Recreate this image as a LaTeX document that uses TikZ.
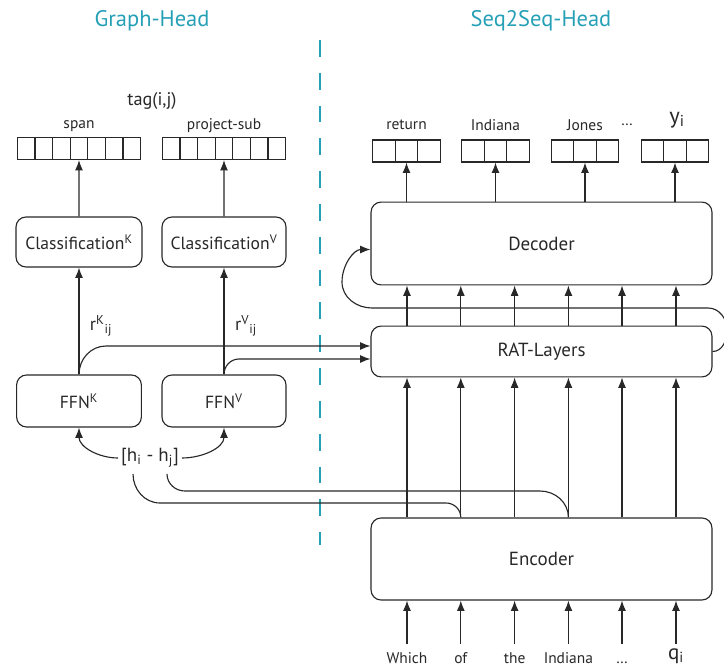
\documentclass[tikz,border=0pt]{standalone}
\usepackage{fontspec}
\setmainfont{PT Sans}
\usetikzlibrary{positioning,calc,arrows.meta}

\definecolor{ink}{RGB}{40,40,40}
\definecolor{headteal}{RGB}{38,160,182}

\tikzset{
	block/.style={draw=ink, line width=0.8pt, rounded corners=0.25cm, font=\fontsize{12.5}{14}\selectfont},
	bigblock/.style={block, minimum width=8.52cm, font=\fontsize{13.5}{15}\selectfont},
	cell/.style={draw=ink, line width=0.8pt, minimum height=0.55cm, inner sep=0pt},
	word/.style={font=\fontsize{11}{13}\selectfont, text=ink, inner sep=1pt},
	arr/.style={-{Latex[length=2.6mm,width=2mm]}, draw=ink, line width=0.8pt},
	wire/.style={draw=ink, line width=0.8pt},
	head/.style={font=\fontsize{16}{18}\selectfont, text=headteal}
}

\begin{document}
\begin{tikzpicture}[x=0.025cm, y=-0.025cm, text=ink]

	\useasboundingbox (0,0) rectangle (724,671);

	%% Headings
	\node[head] (ghead) at (152,21) {Graph-Head};
	\node[head] (shead) at (541,21) {Seq2Seq-Head};
	\coordinate (dtop) at (320,40);
	\coordinate (dbot) at (320,545);
	\draw[headteal, line width=1pt, dash pattern=on 0.42cm off 0.4cm] (dtop) -- (dbot);

	%% Graph-Head
	\node[block, minimum width=3.15cm, minimum height=1.25cm] (clsK) at (79,242) {Classification\textsuperscript{K}};
	\node[block, minimum width=3.1cm, minimum height=1.25cm] (clsV) at (224,242) {Classification\textsuperscript{V}};
	\node[block, minimum width=3.12cm, minimum height=1.3cm] (ffnK) at (79,401) {FFN\textsuperscript{K}};
	\node[block, minimum width=3.1cm, minimum height=1.3cm] (ffnV) at (224,401) {FFN\textsuperscript{V}};

	\foreach \i in {1,2,3,4,5,6,7} {
		\node[cell, minimum width=0.44cm] (sp\i) at (79+\i*17.6-70.4,148.5) {};
		\node[cell, minimum width=0.44cm] (ps\i) at (224+\i*17.6-70.4,148.5) {};
	}
	\node[word] (span) at (79,126) {span};
	\node[word] (psub) at (224,126) {project-sub};
	\node[font=\fontsize{13}{15}\selectfont] (tag) at (152,101) {tag(i,j)};

	\draw[arr] (clsK) -- (sp4);
	\draw[arr] (clsV) -- (ps4);
	\draw[arr] (ffnK) -- (clsK);
	\draw[arr] (ffnV) -- (clsV);

	\node[font=\fontsize{13}{15}\selectfont] (rK) at (101,326) {r\textsuperscript{K}\textsubscript{ij}};
	\node[font=\fontsize{13}{15}\selectfont] (rV) at (246,326) {r\textsuperscript{V}\textsubscript{ij}};

	\node[font=\fontsize{13.5}{15}\selectfont, inner sep=2pt] (hij) at (150,458) {[h\textsubscript{i} - h\textsubscript{j}]};
	\draw[arr] (hij.west) to[out=180,in=-90] (ffnK.south);
	\draw[arr] (hij.east) to[out=0,in=-90] (ffnV.south);

	%% Seq2Seq-Head
	\node[bigblock, minimum height=2.07cm] (dec) at (541.5,243.5) {Decoder};
	\node[bigblock, minimum height=1.27cm] (rat) at (541.5,351.5) {RAT-Layers};
	\node[bigblock, minimum height=2.05cm] (enc) at (541.5,559) {Encoder};

	\foreach \w [count=\i] in {Which,of,the,Indiana} {
		\node[word, text height=1.6ex, text depth=0.4ex] (w\i) at (407+\i*53.8-53.8,659) {\w};
	}
	\node[word, text height=1.6ex, text depth=0.4ex] (w5) at (622,659) {\ldots};
	\node[font=\fontsize{15}{17}\selectfont, inner sep=1pt] (w6) at (676,656) {q\textsubscript{i}};

	\foreach \i in {1,2,3,4,5,6} {
		\draw[arr] ($(w\i.north |- enc.south)+(0,43)$) -- (w\i.north |- enc.south);
		\draw[arr] (enc.north -| w\i) -- (rat.south -| w\i);
		\draw[arr] (rat.north -| w\i) -- (dec.south -| w\i);
	}

	%% output arrays
	\foreach \o/\x/\t in {ret/406.5/return, ind/495.5/Indiana, jon/585/Jones} {
		\foreach \k in {1,2,3}
			\node[cell, minimum width=0.56cm] (\o\k) at (\x+\k*22.4-44.8,151) {};
		\node[word] (\o) at (\x,125) {\t};
		\draw[arr] (dec.north -| \o2) -- (\o2);
	}
	\foreach \k in {1,2,3}
		\node[cell, minimum width=0.56cm] (yi\k) at (675+\k*22.4-44.8,151) {};
	\node[font=\fontsize{16}{18}\selectfont, inner sep=1pt] (yi) at (677,120) {y\textsubscript{i}};
	\node[word] (odots) at (627,125) {\ldots};
	\draw[arr] (dec.north -| yi2) -- (yi2);

	%% relation features into RAT
	\coordinate (kturn) at (106,346);
	\coordinate (vturn) at (239,359);
	\draw[arr] (ffnK.north) to[out=90,in=180] (kturn) -- (rat.west |- kturn);
	\draw[arr] (ffnV.north) to[out=90,in=180] (vturn) -- (rat.west |- vturn);

	%% encoder states back to [h_i - h_j]
	\coordinate (hi) at (133,474);
	\coordinate (hj) at (167,474);
	\draw[wire] (hi) to[out=-90,in=180] (160,503) -- (446,503) to[out=0,in=90] (enc.north -| w2);
	\draw[wire] (hj) to[out=-90,in=180] (185,491) -- (540,491) to[out=0,in=90] (enc.north -| w4);

	%% loop from RAT back to Decoder
	\draw[arr] (rat.east) to[out=0,in=-90] (727,330) to[out=90,in=0] (708,308) -- (372,308)
		to[out=180,in=-90] (342,282) to[out=90,in=180] ($(dec.west)+(0,6)$);

\end{tikzpicture}
\end{document}
